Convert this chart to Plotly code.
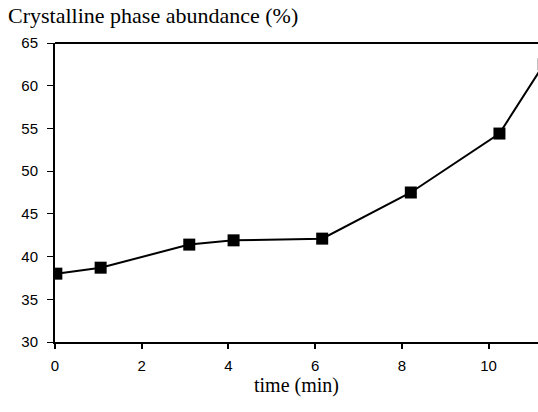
import plotly.graph_objects as go

time_min = [0, 1, 3, 4, 6, 8, 10, 11]
abundance = [38.0, 38.7, 41.4, 41.9, 42.1, 47.5, 54.4, 62.5]
x_ticks = [0, 2, 4, 6, 8, 10]
y_ticks = [30, 35, 40, 45, 50, 55, 60, 65]

fig = go.Figure()
# invisible trace so the tick-bearing x axis is drawn
fig.add_trace(go.Scatter(x=[x_ticks[0]], y=[y_ticks[0]], mode="none",
                         showlegend=False, hoverinfo="skip"))
fig.add_trace(go.Scatter(
    x=time_min, y=abundance, xaxis="x2", yaxis="y",
    mode="lines+markers",
    line=dict(color="black", width=2),
    marker=dict(symbol="square", size=12, color="black"),
    cliponaxis=True, showlegend=False,
))

tickfont = dict(family="Liberation Sans, Arial, sans-serif", size=15, color="black")
serif = "Liberation Serif, Times New Roman, serif"
fig.update_layout(
    width=538, height=412,
    margin=dict(l=55, r=0, t=43, b=70),
    paper_bgcolor="white", plot_bgcolor="white",
    title=dict(text="Crystalline phase abundance (%)", x=0.015, xanchor="left",
               y=0.962, yanchor="middle",
               font=dict(family=serif, size=22, color="black")),
    xaxis=dict(range=[0, 11.14], tickvals=x_ticks, ticks="outside", ticklen=5,
               tickwidth=2, tickcolor="black", showline=True, linecolor="black",
               linewidth=2, mirror=False, showgrid=False, zeroline=False,
               tickfont=tickfont, ticklabelstandoff=4,
               title=dict(text="time (min)", standoff=2,
                          font=dict(family=serif, size=20, color="black"))),
    xaxis2=dict(range=[-0.03, 10.87], overlaying="x", visible=False),
    yaxis=dict(range=[30, 65], tickvals=y_ticks, ticks="outside", ticklen=6,
               tickwidth=1, tickcolor="black", showline=True, linecolor="black",
               linewidth=2, showgrid=False, zeroline=False, tickfont=tickfont,
               ticklabelstandoff=6),
    shapes=[dict(type="line", xref="paper", yref="paper", x0=0, x1=1, y0=1, y1=1,
                 line=dict(color="black", width=2))],
)
fig.write_html("out.html")
